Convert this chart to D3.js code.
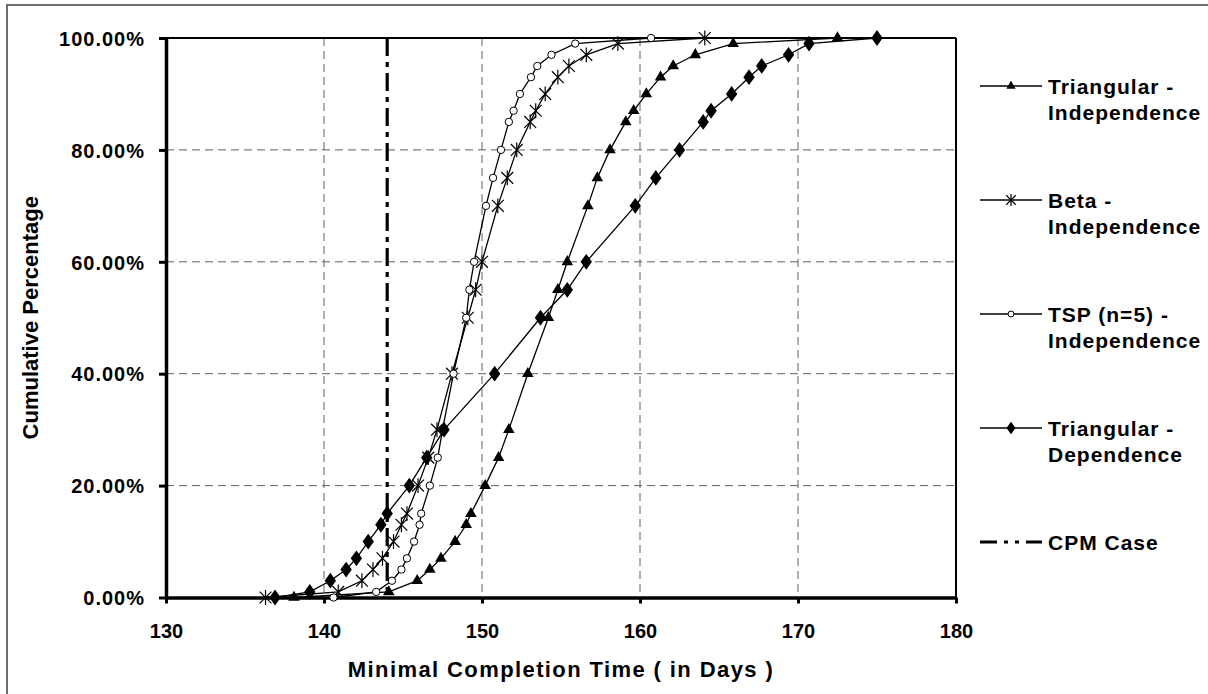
<!DOCTYPE html>
<html>
<head>
<meta charset="utf-8">
<script src="https://cdn.jsdelivr.net/npm/d3@7"></script>
<style>
  html, body { margin: 0; padding: 0; background: #fff; }
  svg { display: block; font-family: Arial, "Liberation Sans", sans-serif; }
</style>
</head>
<body>
<svg id="chart" width="1208" height="694"></svg>
<script>
// ---------- data ----------
const percentiles = [0, 1, 3, 5, 7, 10, 13, 15, 20, 25, 30, 40, 50, 55, 60, 70, 75, 80, 85, 87, 90, 93, 95, 97, 99, 100];
const triangularIndependence = [138.1, 144.1, 145.9, 146.7, 147.4, 148.3, 149.0, 149.3, 150.2, 151.05, 151.7, 152.9, 154.2, 154.8, 155.4, 156.7, 157.3, 158.1, 159.1, 159.6, 160.4, 161.3, 162.1, 163.5, 165.9, 172.5];
const betaIndependence = [136.3, 140.9, 142.4, 143.1, 143.7, 144.4, 144.9, 145.25, 145.95, 146.6, 147.15, 148.1, 149.1, 149.6, 150.0, 151.0, 151.6, 152.2, 153.05, 153.4, 154.0, 154.8, 155.5, 156.6, 158.6, 164.1];
const tspIndependence = [140.6, 143.3, 144.3, 144.9, 145.25, 145.7, 146.05, 146.15, 146.7, 147.2, 147.5, 148.2, 149.0, 149.2, 149.5, 150.25, 150.7, 151.2, 151.7, 152.0, 152.4, 153.1, 153.5, 154.4, 155.9, 160.7];
const triangularDependence = [136.9, 139.1, 140.4, 141.4, 142.05, 142.8, 143.6, 144.0, 145.4, 146.5, 147.6, 150.8, 153.7, 155.4, 156.6, 159.7, 161.0, 162.5, 164.0, 164.5, 165.8, 166.9, 167.7, 169.4, 170.7, 175.0];
const cpmCase = 144;
const xTicks = [130, 140, 150, 160, 170, 180];
const yTicks = [0, 20, 40, 60, 80, 100];
const seriesNames = [["Triangular -", "Independence"], ["Beta -", "Independence"], ["TSP (n=5) -", "Independence"], ["Triangular -", "Dependence"]];
const markerTypes = ["triangle", "star", "circle", "diamond"];
const cpmName = "CPM Case";
const xTitle = "Minimal Completion Time ( in Days )";
const yTitle = "Cumulative Percentage";

const seriesValues = [triangularIndependence, betaIndependence, tspIndependence, triangularDependence];

// ---------- layout ----------
const svg = d3.select("#chart");
const L = 166, R = 956, T = 38, B = 597.5;
const x = d3.scaleLinear().domain([130, 180]).range([L, R]);
const y = d3.scaleLinear().domain([0, 100]).range([B, T]);

// outer border
svg.append("rect").attr("x", 7).attr("y", 5).attr("width", 1300).attr("height", 800)
  .attr("fill", "none").attr("stroke", "#404040").attr("stroke-width", 1.5);

// gridlines
const grid = svg.append("g");
grid.selectAll(".gx").data(xTicks.filter(d => d > 130 && d < 180)).join("line")
  .attr("x1", d => x(d)).attr("x2", d => x(d)).attr("y1", T).attr("y2", B)
  .attr("stroke", "#606060").attr("stroke-width", 1).attr("stroke-dasharray", "8,5");
grid.selectAll(".gy").data(yTicks.filter(d => d > 0 && d < 100)).join("line")
  .attr("x1", L).attr("x2", R).attr("y1", d => y(d)).attr("y2", d => y(d))
  .attr("stroke", "#606060").attr("stroke-width", 1).attr("stroke-dasharray", "8,5");

// frame top & right
svg.append("line").attr("x1", L).attr("x2", R).attr("y1", T).attr("y2", T).attr("stroke", "#000").attr("stroke-width", 2);
svg.append("line").attr("x1", R).attr("x2", R).attr("y1", T).attr("y2", B).attr("stroke", "#000").attr("stroke-width", 2);

// axes
const xAxis = svg.append("g").attr("transform", `translate(0,${B})`)
  .call(d3.axisBottom(x).tickValues(xTicks).tickSize(6).tickSizeOuter(0).tickFormat(d3.format("d")));
const yAxis = svg.append("g").attr("transform", `translate(${L},0)`)
  .call(d3.axisLeft(y).tickValues(yTicks).tickSize(7).tickSizeOuter(0).tickFormat(d => d.toFixed(2) + "%"));
[xAxis, yAxis].forEach(a => {
  a.select(".domain").attr("stroke", "#000").attr("stroke-width", 3.5);
  a.selectAll(".tick line").attr("stroke", "#000").attr("stroke-width", 3);
  a.selectAll("text").attr("fill", "#000").attr("font-weight", "bold").attr("font-size", 20)
    .attr("font-family", "Arial, 'Liberation Sans', sans-serif");
});
xAxis.selectAll("text").attr("y", 0).attr("dy", 0).attr("transform", "translate(0,40)");
yAxis.selectAll("text").attr("x", -21).attr("dy", "0.36em").attr("letter-spacing", 1);

// axis titles
svg.append("text").attr("x", (L + R) / 2).attr("y", 677).attr("text-anchor", "middle")
  .attr("font-weight", "bold").attr("font-size", 22).attr("letter-spacing", 1.4).text(xTitle);
svg.append("text").attr("transform", `translate(38,${(T + B) / 2}) rotate(-90)`).attr("text-anchor", "middle")
  .attr("font-weight", "bold").attr("font-size", 22).text(yTitle);

// marker drawing
function starPath(r) {
  const a = r * 0.8;
  return `M${-a},${-a}L${a},${a}M${-a},${a}L${a},${-a}M0,${-r}L0,${r}`;
}
function drawMarker(g, type, scale) {
  if (type === "triangle") {
    g.append("path").attr("d", d3.symbol(d3.symbolTriangle, 58 * scale * scale)()).attr("fill", "#000");
  } else if (type === "diamond") {
    g.append("path").attr("d", d3.symbol(d3.symbolDiamond, 72 * scale * scale)()).attr("fill", "#000")
      .attr("transform", "scale(1.25,1)");
  } else if (type === "circle") {
    g.append("circle").attr("r", 3.7 * scale).attr("fill", "#fff").attr("stroke", "#000").attr("stroke-width", 1);
  } else if (type === "star") {
    g.append("path").attr("d", starPath(7.4 * scale)).attr("fill", "none").attr("stroke", "#000").attr("stroke-width", 1.2);
  }
}

// series
const line = d3.line().x(d => x(d[0])).y(d => y(d[1]));
seriesValues.forEach((vals, i) => {
  const pts = vals.map((v, k) => [v, percentiles[k]]);
  const g = svg.append("g");
  g.append("path").attr("d", line(pts)).attr("fill", "none").attr("stroke", "#000").attr("stroke-width", 1.3);
  pts.forEach(p => {
    const m = g.append("g").attr("transform", `translate(${x(p[0])},${y(p[1])})`);
    drawMarker(m, markerTypes[i], 1);
  });
});

// CPM line
svg.append("line").attr("x1", x(cpmCase)).attr("x2", x(cpmCase)).attr("y1", T).attr("y2", B)
  .attr("stroke", "#000").attr("stroke-width", 3.2).attr("stroke-dasharray", "18,6,5,6");

// legend
const legX1 = 980, legX2 = 1042, legText = 1048;
const legY = [86, 200, 314, 428];
const legFont = 21;
seriesNames.forEach((nm, i) => {
  const g = svg.append("g").attr("transform", `translate(0,${legY[i]})`);
  g.append("line").attr("x1", legX1).attr("x2", legX2).attr("y1", 0).attr("y2", 0).attr("stroke", "#000").attr("stroke-width", 1.3);
  const m = g.append("g").attr("transform", `translate(${(legX1 + legX2) / 2},0)`);
  drawMarker(m, markerTypes[i], 0.8);
  g.append("text").attr("x", legText).attr("y", 7.5).attr("font-weight", "bold").attr("font-size", legFont).attr("letter-spacing", 1).text(nm[0]);
  g.append("text").attr("x", legText).attr("y", 34).attr("font-weight", "bold").attr("font-size", legFont).attr("letter-spacing", 1).text(nm[1]);
});
const cg = svg.append("g").attr("transform", "translate(0,542)");
cg.append("line").attr("x1", legX1).attr("x2", legX2).attr("y1", 0).attr("y2", 0).attr("stroke", "#000")
  .attr("stroke-width", 3.2).attr("stroke-dasharray", "17,7,4,7,4,7");
cg.append("text").attr("x", legText).attr("y", 7.5).attr("font-weight", "bold").attr("font-size", legFont).attr("letter-spacing", 1).text(cpmName);
</script>
</body>
</html>
